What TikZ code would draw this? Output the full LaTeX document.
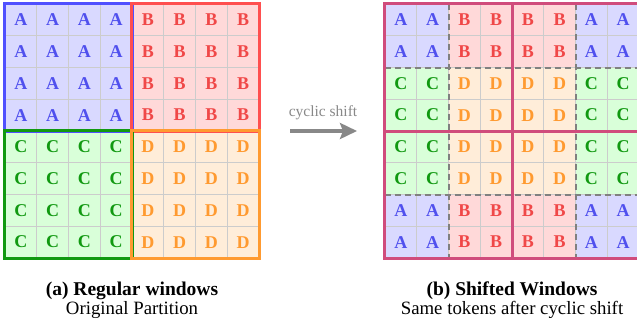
\documentclass[tikz,border=0pt]{standalone}
\usepackage{fontspec}
\setmainfont{Liberation Serif}
\usetikzlibrary{arrows.meta}

% token colours: fill and letter colour for each window label
\definecolor{fillA}{HTML}{D9D9FF}
\definecolor{fillB}{HTML}{FFD9D9}
\definecolor{fillC}{HTML}{D9FFD9}
\definecolor{fillD}{HTML}{FFEDD9}
\definecolor{txtA}{HTML}{5050EE}
\definecolor{txtB}{HTML}{F04848}
\definecolor{txtC}{HTML}{119911}
\definecolor{txtD}{HTML}{FF9A30}
% window borders
\definecolor{edgeA}{HTML}{5050FF}
\definecolor{edgeB}{HTML}{FF4F4F}
\definecolor{edgeC}{HTML}{119911}
\definecolor{edgeD}{HTML}{FF9A30}
\definecolor{shiftedge}{HTML}{D04C7C}
\definecolor{gridgray}{HTML}{CCCCCC}
\definecolor{dashgray}{HTML}{808080}
\definecolor{arrowgray}{HTML}{888888}

\begin{document}
\begin{tikzpicture}[x=1pt,y=-1pt,
  cell/.style={minimum size=31.75pt, inner sep=0pt, draw=gridgray,
    line width=0.8pt, font=\bfseries\fontsize{18}{18}\selectfont},
  winframe/.style={line width=3pt},
  shiftframe/.style={line width=3pt, draw=shiftedge},
  subsplit/.style={line width=2pt, draw=dashgray, dash pattern=on 6pt off 4pt},
  shiftarrow/.style={line width=4pt, draw=arrowgray,
    -{Stealth[length=17pt,width=16pt,inset=3pt]}},
  captitle/.style={anchor=base, font=\bfseries\fontsize{19.5}{19.5}\selectfont},
  capsub/.style={anchor=base, font=\fontsize{18.8}{18.8}\selectfont}
]
\useasboundingbox (0,0) rectangle (637,329);

% (a) regular windows: four 4x4 windows
\foreach \L/\qc/\qr in {A/0/0,B/1/0,C/0/1,D/1/1}{
  \foreach \i in {0,...,3}{
    \foreach \j in {0,...,3}{
      \pgfmathtruncatemacro\cc{4*\qc+\i}
      \pgfmathtruncatemacro\rr{4*\qr+\j}
      \node[cell, fill=fill\L, text=txt\L] (L-\rr-\cc)
        at ({5+(\cc+0.5)*31.75},{4+(\rr+0.5)*31.75}) {\L};
    }
  }
}
\draw[winframe, draw=edgeA] (L-0-0.north west) rectangle (L-3-3.south east);
\draw[winframe, draw=edgeB] (L-0-4.north west) rectangle (L-3-7.south east);
\draw[winframe, draw=edgeC] (L-4-0.north west) rectangle (L-7-3.south east);
\draw[winframe, draw=edgeD] (L-4-4.north west) rectangle (L-7-7.south east);

% (b) shifted windows: tokens after the cyclic shift
\foreach \r/\row in {0/{A,A,B,B,B,B,A,A},1/{A,A,B,B,B,B,A,A},
                     2/{C,C,D,D,D,D,C,C},3/{C,C,D,D,D,D,C,C},
                     4/{C,C,D,D,D,D,C,C},5/{C,C,D,D,D,D,C,C},
                     6/{A,A,B,B,B,B,A,A},7/{A,A,B,B,B,B,A,A}}{
  \foreach \L [count=\c from 0] in \row{
    \node[cell, fill=fill\L, text=txt\L] (R-\r-\c)
      at ({385+(\c+0.5)*31.75},{4+(\r+0.5)*31.75}) {\L};
  }
}
% sub-window boundaries
\draw[subsplit] (R-0-1.north east) -- (R-7-1.south east);
\draw[subsplit] (R-0-5.north east) -- (R-7-5.south east);
\draw[subsplit] (R-1-0.south west) -- (R-1-7.south east);
\draw[subsplit] (R-5-0.south west) -- (R-5-7.south east);
% window boundaries
\draw[shiftframe] (R-0-0.north west) rectangle (R-7-7.south east);
\draw[shiftframe] (R-0-3.north east) -- (R-7-3.south east);
\draw[shiftframe] (R-3-0.south west) -- (R-3-7.south east);

% shift arrow
\coordinate (shiftfrom) at (290,131);
\coordinate (shiftto) at (357,131);
\draw[shiftarrow] (shiftfrom) -- (shiftto);
\node[anchor=base, text=arrowgray, font=\fontsize{15.5}{15.5}\selectfont]
  (shiftlabel) at (323,116) {cyclic shift};

% captions
\node[captitle] (capa) at (132,295) {(a) Regular windows};
\node[capsub] (capa2) at (132,314) {Original Partition};
\node[captitle] (capb) at (512,295) {(b) Shifted Windows};
\node[capsub] (capb2) at (512,314) {Same tokens after cyclic shift};
\end{tikzpicture}
\end{document}
